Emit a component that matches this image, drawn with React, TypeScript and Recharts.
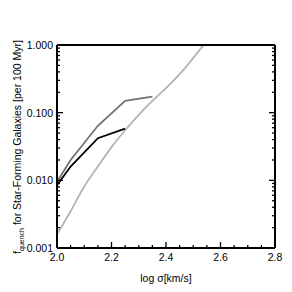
import React from 'react';
import { LineChart, Line, XAxis, YAxis } from 'recharts';

// log sigma sample points for each curve
const blackSigma = [2.0, 2.05, 2.15, 2.25];
const blackFrac = [0.0085, 0.016, 0.042, 0.058];

const graySigma = [2.0, 2.05, 2.15, 2.25, 2.35];
const grayFrac = [0.0095, 0.02, 0.064, 0.149, 0.172];

const lightSigma = [2.0, 2.05, 2.1, 2.15, 2.2, 2.25, 2.3, 2.35, 2.4, 2.45, 2.55];
const lightFrac = [0.0016, 0.0035, 0.0081, 0.016, 0.031, 0.055, 0.093, 0.149, 0.23, 0.37, 1.16];

const xTicks = [2.0, 2.05, 2.1, 2.15, 2.2, 2.25, 2.3, 2.35, 2.4, 2.45, 2.5, 2.55, 2.6, 2.65, 2.7, 2.75, 2.8];
const xMajor = [2.0, 2.2, 2.4, 2.6, 2.8];
const yTicks = [
  0.001, 0.002, 0.003, 0.004, 0.005, 0.006, 0.007, 0.008, 0.009,
  0.01, 0.02, 0.03, 0.04, 0.05, 0.06, 0.07, 0.08, 0.09,
  0.1, 0.2, 0.3, 0.4, 0.5, 0.6, 0.7, 0.8, 0.9,
  1,
];
const yMajor = [0.001, 0.01, 0.1, 1];

const toRows = (xs: number[], ys: number[]) => xs.map((s, i) => ({ sigma: s, frac: ys[i] }));

const FONT = '"Liberation Sans", Arial, sans-serif';
const isMajorX = (v: number) => xMajor.some((m) => Math.abs(m - v) < 1e-6);
const isMajorY = (v: number) => yMajor.some((m) => Math.abs(m - v) < 1e-9);

const BottomTick = (props: any) => {
  const { x, y, payload } = props;
  const major = isMajorX(payload.value);
  return (
    <g>
      <line x1={x} y1={y} x2={x} y2={y - (major ? 6 : 3)} stroke="#000" strokeWidth={1.3} />
      {major && (
        <text x={x} y={y + 13} textAnchor="middle" fontSize={10.5} fontFamily={FONT} fill="#000">
          {payload.value.toFixed(1)}
        </text>
      )}
    </g>
  );
};

const TopTick = (props: any) => {
  const { x, y, payload } = props;
  const major = isMajorX(payload.value);
  return <line x1={x} y1={y} x2={x} y2={y + (major ? 6 : 3)} stroke="#000" strokeWidth={1.3} />;
};

const LeftTick = (props: any) => {
  const { x, y, payload } = props;
  const major = isMajorY(payload.value);
  return (
    <g>
      <line x1={x} y1={y} x2={x + (major ? 6 : 3)} y2={y} stroke="#000" strokeWidth={1.3} />
      {major && (
        <text x={x - 4} y={y + 4} textAnchor="end" fontSize={10.5} fontFamily={FONT} fill="#000">
          {payload.value.toFixed(3)}
        </text>
      )}
    </g>
  );
};

const RightTick = (props: any) => {
  const { x, y, payload } = props;
  const major = isMajorY(payload.value);
  return <line x1={x} y1={y} x2={x - (major ? 6 : 3)} y2={y} stroke="#000" strokeWidth={1.3} />;
};

const YTitle = (props: any) => {
  const cx = 21;
  const cy = 147;
  return (
    <text
      x={cx}
      y={cy}
      transform={`rotate(-90, ${cx}, ${cy})`}
      textAnchor="middle"
      fontSize={10.5}
      fontFamily={FONT}
      fill="#000"
    >
      f
      <tspan fontSize={7} dy={3}>quench</tspan>
      <tspan dy={-3}> for Star-Forming Galaxies [per 100 Myr]</tspan>
    </text>
  );
};

export default function App() {
  return (
    <div style={{ position: 'absolute', left: 0, top: 0, background: '#fff' }}>
      <LineChart width={292} height={292} margin={{ top: 44, right: 16, bottom: 24, left: 30 }}>
        <XAxis
          xAxisId="bottom"
          dataKey="sigma"
          type="number"
          domain={[2, 2.8]}
          ticks={xTicks}
          interval={0}
          height={20}
          tickSize={0}
          tickMargin={0}
          tickLine={false}
          axisLine={{ stroke: '#000', strokeWidth: 2 }}
          tick={BottomTick}
          label={{ value: 'log σ[km/s]', position: 'insideBottom', offset: -14, fill: '#000', fontSize: 10.5, fontFamily: FONT }}
        />
        <XAxis
          xAxisId="top"
          orientation="top"
          dataKey="sigma"
          type="number"
          domain={[2, 2.8]}
          ticks={xTicks}
          interval={0}
          height={1}
          tickSize={0}
          tickMargin={0}
          tickLine={false}
          axisLine={{ stroke: '#000', strokeWidth: 2 }}
          tick={TopTick}
        />
        <YAxis
          yAxisId="left"
          type="number"
          scale="log"
          domain={[0.001, 1]}
          allowDataOverflow
          ticks={yTicks}
          interval={0}
          width={27}
          tickSize={0}
          tickMargin={0}
          tickLine={false}
          axisLine={{ stroke: '#000', strokeWidth: 2 }}
          tick={LeftTick}
          label={<YTitle />}
        />
        <YAxis
          yAxisId="right"
          orientation="right"
          type="number"
          scale="log"
          domain={[0.001, 1]}
          allowDataOverflow
          ticks={yTicks}
          interval={0}
          width={1}
          tickSize={0}
          tickMargin={0}
          tickLine={false}
          axisLine={{ stroke: '#000', strokeWidth: 2 }}
          tick={RightTick}
        />
        <Line
          xAxisId="bottom"
          yAxisId="left"
          data={toRows(lightSigma, lightFrac)}
          dataKey="frac"
          type="monotone"
          stroke="#b4b4b4"
          strokeWidth={1.8}
          dot={false}
          isAnimationActive={false}
        />
        <Line
          xAxisId="bottom"
          yAxisId="left"
          data={toRows(graySigma, grayFrac)}
          dataKey="frac"
          type="linear"
          stroke="#727272"
          strokeWidth={1.8}
          dot={false}
          isAnimationActive={false}
        />
        <Line
          xAxisId="bottom"
          yAxisId="left"
          data={toRows(blackSigma, blackFrac)}
          dataKey="frac"
          type="linear"
          stroke="#000"
          strokeWidth={1.8}
          dot={false}
          isAnimationActive={false}
        />
      </LineChart>
    </div>
  );
}
